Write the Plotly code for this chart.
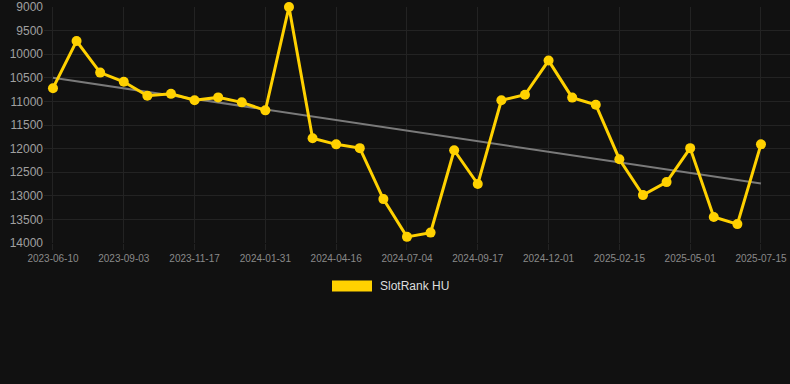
import plotly.graph_objects as go

dates = [
    "2023-06-10", "2023-07-08", "2023-08-05", "2023-09-03", "2023-09-28", "2023-10-23",
    "2023-11-17", "2023-12-12", "2024-01-06", "2024-01-31", "2024-02-25", "2024-03-22",
    "2024-04-16", "2024-05-12", "2024-06-08", "2024-07-04", "2024-07-29", "2024-08-23",
    "2024-09-17", "2024-10-12", "2024-11-06", "2024-12-01", "2024-12-26", "2025-01-21",
    "2025-02-15", "2025-03-12", "2025-04-06", "2025-05-01", "2025-05-26", "2025-06-20",
    "2025-07-15",
]
rank = [
    10720, 9720, 10390, 10585, 10880, 10840, 10975, 10915, 11020, 11190,
    9000, 11780, 11910, 11990, 13070, 13870, 13780, 12035, 12750, 10975,
    10860, 10135, 10920, 11070, 12225, 12985, 12710, 11990, 13450, 13600,
    11910,
]
trend_x = [dates[0], dates[-1]]
trend_y = [10500, 12740]
tick_labels = dates[::3]
y_ticks = [9000, 9500, 10000, 10500, 11000, 11500, 12000, 12500, 13000, 13500, 14000]
series_name = "SlotRank HU"

YELLOW = "#FFD100"
BG = "#111111"
GRID = "#232323"

fig = go.Figure()
fig.add_trace(go.Scatter(
    x=trend_x, y=trend_y, mode="lines",
    line=dict(color="#7a7a7a", width=2),
    showlegend=False, hoverinfo="skip",
))
fig.add_trace(go.Scatter(
    x=dates, y=rank, mode="lines+markers", name=series_name,
    line=dict(color=YELLOW, width=3),
    marker=dict(color=YELLOW, size=10),
    cliponaxis=False, showlegend=False,
))

# legend (Chart.js style rectangle + label)
fig.add_shape(type="rect", xref="paper", yref="paper",
              x0=(332 - 44) / 746, x1=(372 - 44) / 746,
              y0=(240.7 - 289.3) / 236.6, y1=(240.7 - 278.3) / 236.6,
              fillcolor=YELLOW, line=dict(width=0))
fig.add_annotation(xref="paper", yref="paper",
                   x=(378 - 44) / 746, y=(240.7 - 284) / 236.6,
                   text=series_name, showarrow=False, xanchor="left", yanchor="middle",
                   font=dict(family="Liberation Sans, Arial", size=12, color="#dddddd"))

fig.update_layout(
    width=790, height=384,
    margin=dict(l=44, r=0, t=7, b=141, pad=0),
    paper_bgcolor=BG, plot_bgcolor=BG,
    font=dict(family="Liberation Sans, Arial", color="#999999"),
    showlegend=False,
    xaxis=dict(
        type="category", categoryorder="array", categoryarray=dates,
        range=[-0.38, 31.23],
        tickmode="array", tickvals=tick_labels, ticktext=tick_labels,
        tickfont=dict(size=10, color="#8a8a8a"),
        showgrid=True, gridcolor=GRID, gridwidth=1,
        ticks="outside", ticklen=6, tickcolor=GRID,
        zeroline=False, showline=False,
    ),
    yaxis=dict(
        range=[14000, 9000],
        tickmode="array", tickvals=y_ticks, ticktext=[str(v) for v in y_ticks],
        tickfont=dict(size=12, color="#a0a0a0"),
        showgrid=True, gridcolor=GRID, gridwidth=1,
        zeroline=False, showline=False, ticks="",
    ),
)

fig.write_html("out.html")
